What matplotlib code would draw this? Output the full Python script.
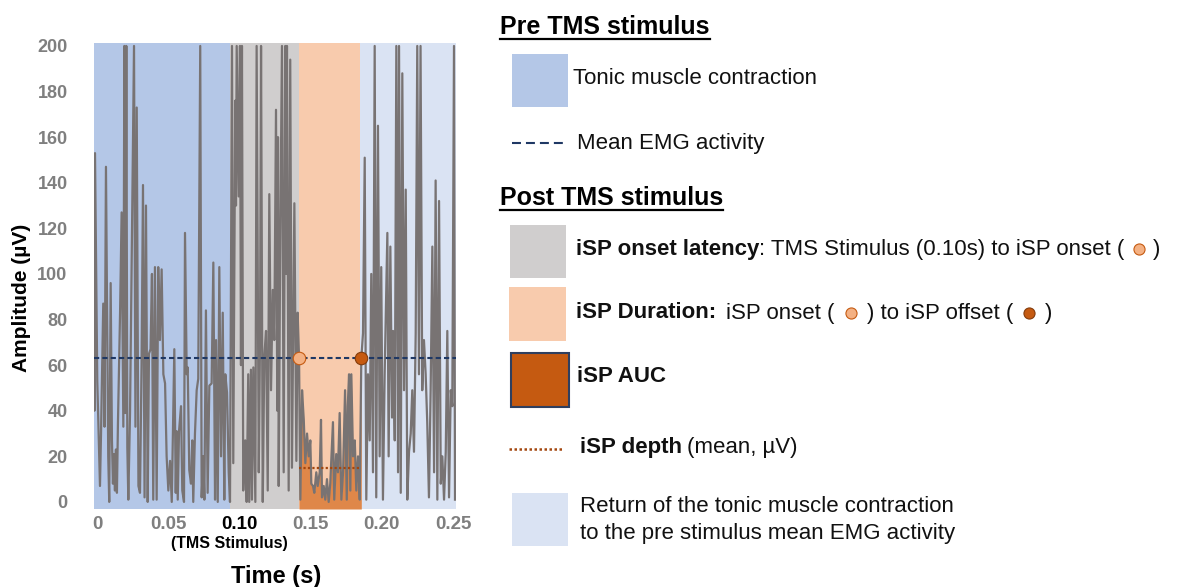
import numpy as np
import matplotlib
matplotlib.use('Agg')
import matplotlib.pyplot as plt
from matplotlib.patches import Rectangle
from matplotlib.lines import Line2D

plt.rcParams['font.family'] = ['Liberation Sans', 'DejaVu Sans']

# EMG trace (time in ms, amplitude in uV, peaks clipped at 200)
time_ms = [-2.5, -1.8, -1.4, 0.2, 2.1, 2.8, 4.4, 5.3, 6.3, 7.9, 8.6, 9.6, 10.5, 11.2, 11.9,
           12.6, 13.3, 14.0, 14.7, 16.2, 17.3, 18.5, 19.2, 19.9, 20.6, 21.3, 22.0, 23.2, 26.0,
           27.0, 27.9, 29.1, 30.2, 31.3, 32.3, 33.4, 34.4, 35.6, 36.5, 37.6, 38.6, 39.5, 40.7,
           41.9, 43.0, 44.2, 45.4, 46.6, 47.8, 48.9, 50.1, 51.3, 52.5, 53.6, 54.3, 55.3, 56.0,
           56.7, 57.6, 59.0, 59.9, 61.1, 61.8, 63.0, 63.7, 64.8, 66.0, 66.9, 67.6, 68.8, 70.0,
           71.1, 72.5, 73.5, 74.6, 75.4, 76.5, 77.7, 78.9, 80.5, 81.7, 82.9, 83.6, 84.8, 85.9,
           87.1, 88.3, 89.4, 90.1, 91.3, 92.5, 93.4, 94.8, 95.7, 97.1, 97.6, 98.1, 99.5, 100.4,
           101.1, 101.8, 102.7, 104.1, 105.1, 106.2, 106.9, 108.1, 108.8, 109.8, 111.2, 112.1,
           113.6, 114.5, 115.2, 116.4, 117.5, 118.7, 119.9, 121.0, 122.2, 123.4, 124.5, 125.7,
           126.6, 127.1, 127.6, 128.7, 129.9, 131.1, 132.2, 132.9, 133.4, 134.6, 135.7, 136.9,
           138.6, 140.0, 140.9, 141.9, 142.8, 144.0, 145.2, 146.3, 147.5, 148.7, 149.8, 150.5,
           151.7, 152.6, 154.0, 155.0, 156.4, 157.3, 158.0, 159.2, 160.3, 161.5, 162.7, 163.8,
           165.7, 166.6, 168.0, 169.2, 170.4, 171.6, 172.8, 174.2, 175.4, 176.1, 177.0, 177.9,
           178.6, 179.8, 181.0, 182.1, 183.3, 184.5, 185.6, 186.8, 188.0, 189.1, 190.3, 191.5,
           192.6, 193.8, 195.0, 196.1, 197.3, 198.5, 199.6, 200.8, 202.0, 203.9, 204.8, 206.0,
           207.2, 207.9, 209.1, 210.2, 211.4, 212.1, 213.3, 214.4, 215.6, 216.8, 217.9, 219.1,
           220.3, 221.4, 222.6, 223.8, 224.9, 226.1, 227.2, 228.4, 229.6, 230.8, 231.9, 233.1,
           234.3, 235.5, 236.7, 237.8, 239.0, 240.2, 241.4, 242.5, 243.7, 244.9, 246.0, 247.2,
           248.4, 249.5, 250.7, 251.4]
amplitude = [121, 40, 153, 53, 7, 29, 87, 33, 147, 20, 0, 96, 27, 8, 21,
             5, 23, 4, 34, 83, 127, 33, 200, 39, 200, 24, 1, 39, 200,
             33, 173, 7, 4, 60, 139, 2, 130, 0, 65, 67, 100, 1, 103,
             1, 103, 71, 102, 56, 52, 20, 5, 18, 0, 42, 67, 4, 31,
             1, 31, 42, 5, 0, 118, 56, 59, 14, 8, 27, 0, 30, 49,
             54, 200, 2, 20, 1, 84, 4, 51, 52, 105, 1, 71, 0, 103,
             20, 83, 1, 56, 48, 13, 0, 200, 17, 176, 130, 200, 134, 200,
             60, 200, 5, 27, 0, 56, 0, 58, 1, 59, 0, 200,
             13, 73, 200, 0, 64, 75, 5, 135, 49, 93, 71, 172,
             40, 160, 7, 118, 200, 13, 200, 100, 200, 5, 194, 15,
             131, 18, 83, 63, 1, 49, 36, 17, 30, 20, 27, 8,
             7, 4, 13, 7, 13, 36, 2, 7, 1, 10, 0, 8,
             35, 1, 21, 13, 39, 1, 13, 49, 1, 42, 56, 5,
             56, 20, 27, 5, 20, 1, 63, 74, 151, 1, 56, 27,
             100, 13, 200, 2, 165, 20, 103, 1, 56, 118, 20, 112,
             37, 75, 27, 200, 13, 200, 4, 188, 49, 137, 1, 22,
             30, 49, 22, 74, 200, 56, 200, 49, 71, 56, 35, 2,
             49, 112, 13, 141, 1, 132, 8, 20, 1, 22, 75, 2,
             49, 42, 200, 1]

# phases (s) and summary values
phase_edges = [-0.0021, 0.0937, 0.1419, 0.1847, 0.2521]
phase_colors = ['#b4c7e7', '#d0cece', '#f8cbad', '#dae3f3']
mean_emg = 63
isp_onset = 0.1419
isp_offset = 0.1856
isp_depth = 15

xticks = [0, 0.05, 0.10, 0.15, 0.20, 0.25]
xtick_labels = ['0', '0.05', '0.10', '0.15', '0.20', '0.25']
yticks = list(range(0, 201, 20))

W, H = 1177, 587
fig = plt.figure(figsize=(W / 100, H / 100), dpi=100)


def fx(x):
    return x / W


def fy(y):
    return 1 - y / H


ax = fig.add_axes([fx(94), fy(509), fx(456) - fx(94), fy(43) - fy(509)])
ax.set_xlim(phase_edges[0], phase_edges[-1])
ax.set_ylim(-3.1, 201.3)

for x0, x1, c in zip(phase_edges[:-1], phase_edges[1:], phase_colors):
    ax.axvspan(x0, x1, color=c, lw=0, zorder=0)

t = np.array(time_ms) / 1000
amp = np.array(amplitude)
ax.plot(t, amp, color='#787373', lw=1.6, zorder=3)

sel = (t >= isp_onset - 1e-6) & (t <= isp_offset + 1e-6)
ax.fill_between(t[sel], amp[sel], ax.get_ylim()[0], color='#df8749', lw=0, zorder=2)

ax.axhline(mean_emg, color='#1f3864', lw=1.5, ls=(0, (2.5, 1.5)), zorder=4)
ax.hlines(isp_depth, isp_onset, isp_offset, color='#a3470f', lw=1.6, ls=(0, (1, 1)), zorder=4)
ax.plot([isp_onset], [mean_emg], 'o', ms=9, mfc='#f4b183', mec='#c55a11', mew=0.8, zorder=5)
ax.plot([isp_offset], [mean_emg], 'o', ms=9, mfc='#c55a11', mec='#843c0c', mew=0.8, zorder=5)

for s in ax.spines.values():
    s.set_visible(False)
ax.set_xticks(xticks)
ax.set_xticklabels(xtick_labels, fontsize=13.5, fontweight='bold', color='#7f7f7f')
ax.get_xticklabels()[2].set_color('black')
ax.set_yticks(yticks)
ax.set_yticklabels([str(v) for v in yticks], fontsize=13, fontweight='bold', color='#7f7f7f')
ax.tick_params(axis='x', length=0, pad=5)
ax.tick_params(axis='y', length=0, pad=19)

ax.annotate('(TMS Stimulus)', xy=(0.10, 0), xycoords=('data', 'axes fraction'),
            xytext=(-7, -25), textcoords='offset points', ha='center', va='center',
            fontsize=11.5, fontweight='bold')
fig.text(fx(276), fy(577), 'Time (s)', fontsize=17, fontweight='bold', ha='center', va='center')
fig.text(fx(22), fy(298), 'Amplitude (µV)', fontsize=15, fontweight='bold', rotation=90,
         ha='center', va='center')

# ---- legend panel on the right ----
r = fig.canvas.get_renderer()


def heading(x, y, s, uy):
    txt = fig.text(fx(x), fy(y), s, fontsize=18, fontweight='bold', va='center', ha='left')
    bb = txt.get_window_extent(r)
    fig.add_artist(Line2D([fx(bb.x0), fx(bb.x1)], [fy(uy), fy(uy)], color='black', lw=1.6))


def box(x0, y0, x1, y1, face, edge=None):
    fig.add_artist(Rectangle((fx(x0), fy(y1)), fx(x1) - fx(x0), fy(y0) - fy(y1),
                             transform=fig.transFigure, facecolor=face,
                             edgecolor=edge if edge else 'none', lw=1.5 if edge else 0))


def rich(x, y, parts, size=16):
    for p in parts:
        if p[0] == 'gap':
            x += p[1]
        elif p[0] == 'dot':
            fig.add_artist(Line2D([fx(x + 6)], [fy(y)], marker='o', ms=8, mfc=p[1], mec=p[2],
                                  mew=0.8, ls=''))
            x += 12
        else:
            txt = fig.text(fx(x), fy(y), p[1], fontsize=size, fontweight=p[0],
                           va='center', ha='left', color='#111111')
            x = txt.get_window_extent(r).x1


heading(500, 27, 'Pre TMS stimulus', 39)
box(512, 54, 568, 107, phase_colors[0])
rich(573, 78, [('normal', 'Tonic muscle contraction')])
fig.add_artist(Line2D([fx(512), fx(566)], [fy(143), fy(143)], color='#1f3864', lw=1.5,
                      ls=(0, (4.3, 2.4))))
rich(577, 143, [('normal', 'Mean EMG activity')])

heading(500, 198, 'Post TMS stimulus', 210)
box(510, 225, 566, 278, phase_colors[1])
rich(576, 249, [('bold', 'iSP onset latency'), ('normal', ': TMS Stimulus (0.10s) to iSP onset ('),
                ('gap', 8), ('dot', '#f4b183', '#c55a11'), ('gap', 8), ('normal', ')')])
box(509, 287, 566, 341, phase_colors[2])
rich(576, 313, [('bold', 'iSP Duration:'), ('gap', 10), ('normal', 'iSP onset ('), ('gap', 10),
                ('dot', '#f4b183', '#c55a11'), ('gap', 10), ('normal', ') to iSP offset ('),
                ('gap', 10), ('dot', '#c55a11', '#843c0c'), ('gap', 10), ('normal', ')')])
box(511, 353, 569, 407, '#c55a11', '#2f3f5f')
rich(577, 376, [('bold', 'iSP AUC')])
fig.add_artist(Line2D([fx(509), fx(563)], [fy(449), fy(449)], color='#a3470f', lw=1.8,
                      ls=(0, (1, 1))))
rich(580, 447, [('bold', 'iSP depth'), ('gap', 5), ('normal', '(mean, µV)')])
box(512, 493, 568, 546, phase_colors[3])
rich(580, 507, [('normal', 'Return of the tonic muscle contraction')])
rich(580, 533, [('normal', 'to the pre stimulus mean EMG activity')])

fig.savefig('out.png', dpi=100)
